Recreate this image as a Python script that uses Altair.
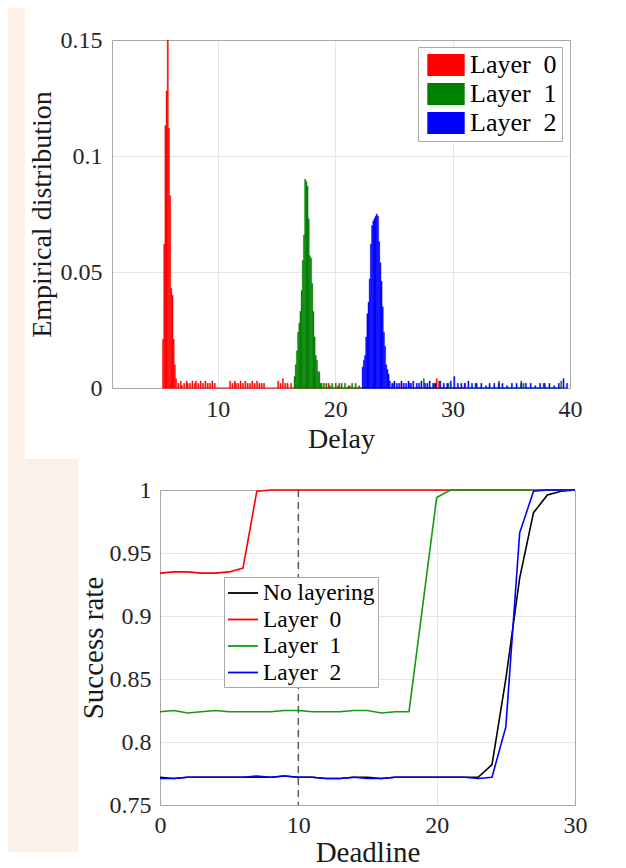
import altair as alt
import pandas as pd

FONT = "Liberation Serif"
BEIGE = "#fbf1e8"

# ---------------- top panel: empirical distribution of delay ----------------
BIN_WIDTH = 0.1
layer0_left = [5.3, 5.4, 5.5, 5.6, 5.7, 5.8, 5.9, 6.0, 6.1, 6.2, 6.3, 6.4,
               6.6, 6.8, 6.9, 7.1, 7.3, 7.4, 7.6, 7.8, 8.0, 8.1, 8.3, 8.5, 8.7, 8.9, 9.1, 9.3, 9.5, 9.7,
               11.0, 11.2, 11.4, 11.5, 11.7, 11.9, 12.1, 12.3, 12.5, 12.7, 12.9, 13.1, 13.3, 13.5, 13.7, 13.9,
               15.1, 15.3, 15.5, 15.7, 15.9, 16.2, 16.5, 19.4, 20.3, 21.2, 25.6, 28.6, 28.8, 31.0]
layer0_prob = [0.021, 0.062, 0.113, 0.128, 0.150, 0.112, 0.083, 0.043, 0.040, 0.021, 0.010, 0.004,
               0.002, 0.003, 0.001, 0.002, 0.003, 0.002, 0.002, 0.003, 0.002, 0.003, 0.002, 0.003, 0.002, 0.003, 0.002, 0.002, 0.003, 0.002,
               0.003, 0.002, 0.003, 0.002, 0.002, 0.003, 0.002, 0.003, 0.002, 0.002, 0.003, 0.002, 0.003, 0.002, 0.002, 0.002,
               0.003, 0.002, 0.004, 0.002, 0.002, 0.002, 0.001, 0.002, 0.002, 0.001, 0.002, 0.004, 0.003, 0.002]

layer1_left = [16.5, 16.6, 16.7, 16.8, 16.9, 17.0, 17.1, 17.2, 17.3, 17.4, 17.5, 17.6,
               17.7, 17.8, 17.9, 18.0, 18.1, 18.2, 18.3, 18.4, 18.5, 18.6, 18.7, 18.8,
               19.0, 19.2, 19.5, 19.7, 20.0, 20.2, 20.5, 20.8, 21.1, 21.4, 21.7, 22.0,
               24.9, 26.3, 27.5, 28.4, 29.6, 31.9, 33.9, 35.8, 36.0, 37.7, 39.2]
layer1_prob = [0.005, 0.010, 0.016, 0.024, 0.028, 0.033, 0.042, 0.055, 0.066, 0.090, 0.089, 0.087,
               0.073, 0.057, 0.056, 0.045, 0.033, 0.022, 0.014, 0.012, 0.007, 0.007, 0.002, 0.002,
               0.002, 0.002, 0.001, 0.002, 0.002, 0.001, 0.002, 0.002, 0.001, 0.002, 0.002, 0.001,
               0.002, 0.002, 0.004, 0.002, 0.002, 0.002, 0.003, 0.003, 0.002, 0.002, 0.003]

layer2_left = [22.3, 22.4, 22.5, 22.6, 22.7, 22.8, 22.9, 23.0, 23.1, 23.2, 23.3, 23.4,
               23.5, 23.6, 23.7, 23.8, 23.9, 24.0, 24.1, 24.2, 24.3, 24.4, 24.5, 24.6,
               24.8, 25.0, 25.2, 25.4, 25.6, 25.8, 26.0, 26.2, 26.4, 26.6, 26.9, 27.1, 27.3, 27.6,
               27.8, 28.0, 28.3, 28.5, 28.9, 29.2, 29.5, 29.8, 30.1, 30.4, 30.7, 31.0, 31.3, 31.6,
               32.0, 32.4, 32.8, 33.1, 33.5, 33.9, 34.2, 34.6, 35.0, 35.4, 35.8, 36.2, 36.6, 37.0,
               37.4, 37.8, 38.2, 38.6, 39.0, 39.4, 39.7]
layer2_prob = [0.009, 0.012, 0.014, 0.022, 0.032, 0.037, 0.047, 0.062, 0.070, 0.072, 0.073, 0.074,
               0.075, 0.074, 0.063, 0.054, 0.046, 0.035, 0.024, 0.018, 0.010, 0.008, 0.006, 0.003,
               0.002, 0.003, 0.002, 0.002, 0.003, 0.002, 0.002, 0.003, 0.002, 0.003, 0.002, 0.002, 0.003, 0.002,
               0.002, 0.003, 0.002, 0.002, 0.003, 0.002, 0.002, 0.003, 0.005, 0.002, 0.002, 0.002, 0.003, 0.002,
               0.002, 0.002, 0.001, 0.002, 0.002, 0.002, 0.002, 0.001, 0.002, 0.002, 0.002, 0.002, 0.002, 0.001,
               0.002, 0.002, 0.002, 0.001, 0.002, 0.004, 0.002]

hist_series = ["Layer\u00a0\u00a00", "Layer\u00a0\u00a01", "Layer\u00a0\u00a02"]
hist_colors = ["#ff0000", "#008000", "#0000ff"]
top_x_ticks = [10, 20, 30, 40]
top_y_ticks = [0, 0.05, 0.1, 0.15]

# ---------------- bottom panel: success rate vs deadline ----------------
deadline = [0, 1, 2, 3, 4, 5, 6, 7, 8, 9, 10, 11, 12, 13, 14, 15,
            16, 17, 18, 19, 20, 21, 22, 23, 24, 25, 26, 27, 28, 29, 30]
rate_no_layering = [0.772, 0.771, 0.772, 0.772, 0.772, 0.772, 0.772, 0.772, 0.772, 0.773,
                    0.772, 0.772, 0.771, 0.771, 0.772, 0.772, 0.771, 0.772, 0.772, 0.772,
                    0.772, 0.772, 0.772, 0.772, 0.782, 0.850, 0.930, 0.982, 0.996, 0.999, 1.0]
rate_layer0 = [0.934, 0.935, 0.935, 0.934, 0.934, 0.935, 0.938, 0.999, 1.0, 1.0,
               1.0, 1.0, 1.0, 1.0, 1.0, 1.0, 1.0, 1.0, 1.0, 1.0,
               1.0, 1.0, 1.0, 1.0, 1.0, 1.0, 1.0, 1.0, 1.0, 1.0, 1.0]
rate_layer1 = [0.824, 0.825, 0.823, 0.824, 0.825, 0.824, 0.824, 0.824, 0.824, 0.825,
               0.825, 0.824, 0.824, 0.824, 0.825, 0.825, 0.823, 0.824, 0.824, 0.909,
               0.994, 1.0, 1.0, 1.0, 1.0, 1.0, 1.0, 1.0, 1.0, 1.0, 1.0]
rate_layer2 = [0.771, 0.771, 0.772, 0.772, 0.772, 0.772, 0.772, 0.773, 0.772, 0.773,
               0.772, 0.772, 0.771, 0.771, 0.772, 0.771, 0.771, 0.772, 0.772, 0.772,
               0.772, 0.772, 0.772, 0.771, 0.772, 0.812, 0.966, 0.999, 1.0, 1.0, 1.0]
line_series = ["No layering"] + hist_series
line_colors = ["#000000", "#ff0000", "#129a12", "#0000ff"]
marker_deadline = [10]
bot_x_ticks = [0, 10, 20, 30]
bot_y_ticks = [0.75, 0.8, 0.85, 0.9, 0.95, 1]

# ---------------- tables ----------------
rows = []
for name, lefts, probs in zip(hist_series, [layer0_left, layer1_left, layer2_left],
                              [layer0_prob, layer1_prob, layer2_prob]):
    for l, p in zip(lefts, probs):
        rows.append({"series": name, "start": l, "end": round(l + BIN_WIDTH, 3), "prob": p})
hist_df = pd.DataFrame(rows)
base_df = hist_df.groupby("series", sort=False).agg(start=("start", "min"), end=("end", "max")).reset_index()
base_df["prob"] = 0.0

lrows = []
for name, vals in zip(line_series, [rate_no_layering, rate_layer0, rate_layer1, rate_layer2]):
    for d, v in zip(deadline, vals):
        lrows.append({"series": name, "deadline": d, "rate": v})
lines_df = pd.DataFrame(lrows)


def axis_base(label_size, title_size, label_pad, title_pad):
    return dict(labelFont=FONT, labelFontSize=label_size, labelColor="#262626",
                titleFont=FONT, titleFontSize=title_size, titleFontWeight="normal",
                titleColor="#1a1a1a", domainColor="#a8a8a8", domainWidth=1,
                gridColor="#e6e6e6", gridWidth=1, ticks=False,
                labelPadding=label_pad, titlePadding=title_pad)


border_axis = dict(labels=False, ticks=False, grid=False, domainColor="#a8a8a8", domainWidth=1, title=None)

# ---------------- top chart ----------------
TOP_W, TOP_H = 458, 348
x_top = alt.Scale(domain=[1, 40], nice=False, zero=False)
y_top = alt.Scale(domain=[0, 0.15], nice=False)
c_top = alt.Scale(domain=hist_series, range=hist_colors)

top_x_axis = alt.Axis(values=top_x_ticks, title="Delay", labelFlush=False, **axis_base(24, 28, 9, 4))
top_y_axis = alt.Axis(values=top_y_ticks, format=".2~f", title="Empirical distribution",
                      **axis_base(24, 28, 10, 4))

top_legend = alt.Legend(title=None, orient="none", legendX=306, legendY=7,
                        symbolType="M-1.7,-1L1.7,-1L1.7,1L-1.7,1Z", symbolSize=484,
                        symbolStrokeWidth=0, symbolOffset=10, labelOffset=11,
                        labelFont=FONT, labelFontSize=26, labelColor="#000000",
                        fillColor="#ffffff", strokeColor="#a8a8a8", padding=5, rowPadding=3)

top_pad = alt.Chart(alt.Data(values=[{}])).mark_rect(color=BEIGE).encode(
    x=alt.value(-104), x2=alt.value(-87), y=alt.value(-32), y2=alt.value(419))

baseline = alt.Chart(base_df).mark_rule(strokeWidth=1.2).encode(
    x=alt.X("start:Q", scale=x_top, axis=top_x_axis),
    x2="end:Q",
    y=alt.Y("prob:Q", scale=y_top, axis=top_y_axis),
    color=alt.Color("series:N", scale=c_top, legend=top_legend),
)

bars = alt.Chart(hist_df).mark_rect(strokeWidth=0.4).encode(
    x=alt.X("start:Q", scale=x_top, axis=top_x_axis),
    x2="end:Q",
    y=alt.Y("prob:Q", scale=y_top, axis=top_y_axis),
    y2=alt.datum(0),
    color=alt.Color("series:N", scale=c_top, legend=top_legend),
    stroke=alt.Stroke("series:N", scale=c_top, legend=None),
)

top_border = alt.Chart(hist_df).mark_point(opacity=0).encode(
    x=alt.X("start:Q", scale=x_top, axis=alt.Axis(orient="top", **border_axis)),
    y=alt.Y("prob:Q", scale=y_top, axis=alt.Axis(orient="right", **border_axis)),
)

top = alt.layer(top_pad, alt.layer(baseline, bars), top_border).resolve_axis(
    x="independent", y="independent").properties(width=TOP_W, height=TOP_H)

# ---------------- bottom chart ----------------
SHIFT = 48
BOT_W, BOT_H = 463, 315
x_bot = alt.Scale(domain=[0, 30], nice=False, zero=False, range=[SHIFT, BOT_W])
y_bot = alt.Scale(domain=[0.75, 1], nice=False, zero=False)
c_bot = alt.Scale(domain=line_series, range=line_colors)

bot_x_axis = alt.Axis(values=bot_x_ticks, title="Deadline", labelFlush=False, **axis_base(24, 29, 8, 1))
bot_y_axis = alt.Axis(values=bot_y_ticks, format=".2~f", title="Success rate", offset=-SHIFT,
                      **axis_base(24, 29, 9, 1))

bot_legend = alt.Legend(title=None, orient="none", legendX=112, legendY=87,
                        symbolType="M-1.25,0L1.25,0", symbolSize=576, symbolStrokeWidth=1.8,
                        symbolOffset=3, labelOffset=7,
                        labelFont=FONT, labelFontSize=23.5, labelColor="#000000",
                        fillColor="#ffffff", strokeColor="#a8a8a8", padding=3, rowPadding=1.5)

bot_pad = alt.Chart(alt.Data(values=[{}])).mark_rect(color=BEIGE).encode(
    x=alt.value(-104), x2=alt.value(-34), y=alt.value(-31), y2=alt.value(362))

marker = alt.Chart(pd.DataFrame({"deadline": marker_deadline})).mark_rule(
    color="#5a5a5a", strokeWidth=1.5, strokeDash=[7, 5]).encode(
    x=alt.X("deadline:Q", scale=x_bot, axis=bot_x_axis))

line_layers = []
for name in line_series:
    line_layers.append(
        alt.Chart(lines_df).transform_filter(alt.FieldEqualPredicate(field="series", equal=name))
        .mark_line(strokeWidth=1.6).encode(
            x=alt.X("deadline:Q", scale=x_bot, axis=bot_x_axis),
            y=alt.Y("rate:Q", scale=y_bot, axis=bot_y_axis),
            color=alt.Color("series:N", scale=c_bot, legend=bot_legend),
        )
    )

bot_border = alt.Chart(lines_df).mark_point(opacity=0).encode(
    x=alt.X("deadline:Q", scale=x_bot, axis=alt.Axis(orient="top", **border_axis)),
    y=alt.Y("rate:Q", scale=y_bot, axis=alt.Axis(orient="right", **border_axis)),
)

bottom = alt.layer(bot_pad, alt.layer(marker, *line_layers), bot_border).resolve_axis(
    x="independent", y="independent").properties(width=BOT_W, height=BOT_H)

chart = alt.vconcat(top, bottom, spacing=0, padding=0, background="#ffffff").resolve_scale(
    color="independent", stroke="independent", x="independent", y="independent"
).resolve_legend(color="independent", stroke="independent").configure(
    font=FONT
).configure_axis(labelFont=FONT, titleFont=FONT).configure_legend(labelFont=FONT).configure_view(strokeWidth=0)

chart.save("out.html", embed_options={"renderer": "svg", "actions": False})
